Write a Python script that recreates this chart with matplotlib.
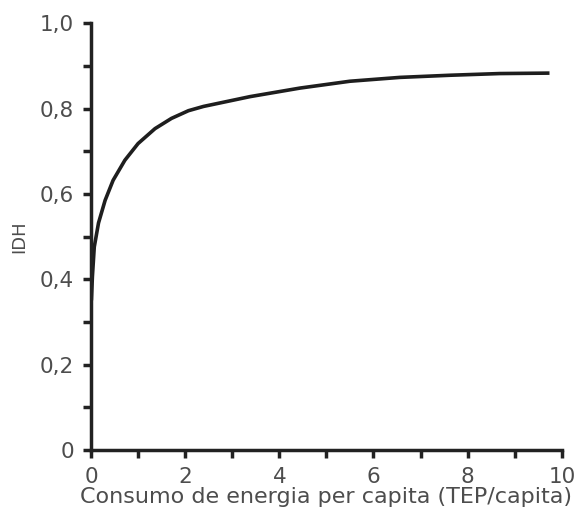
import matplotlib
matplotlib.use("Agg")
import matplotlib.pyplot as plt

# curve (TEP/capita -> IDH)
energia = [0.01, 0.03, 0.07, 0.16, 0.30, 0.47, 0.72, 1.00, 1.36, 1.71, 2.07,
           2.39, 3.38, 4.44, 5.50, 6.56, 7.62, 8.68, 9.70]
idh = [0.355, 0.406, 0.476, 0.532, 0.585, 0.632, 0.679, 0.718, 0.753, 0.777,
       0.795, 0.805, 0.828, 0.848, 0.864, 0.873, 0.878, 0.882, 0.883]

x_ticks = [0, 2, 4, 6, 8, 10]
y_ticks = [0, 0.2, 0.4, 0.6, 0.8, 1.0]
y_labels = ["0", "0,2", "0,4", "0,6", "0,8", "1,0"]

fig = plt.figure(figsize=(5.78, 5.15), dpi=100)
ax = fig.add_axes([0.1574, 0.126, 0.8146, 0.829])

ax.plot(energia, idh, color="#1e1e1e", lw=2.6, solid_joinstyle="round")

ax.set_xlim(0, 10)
ax.set_ylim(0, 1.0)
ax.set_xticks(x_ticks)
ax.set_xticks(range(0, 11), minor=True)
ax.set_yticks(y_ticks)
ax.set_yticklabels(y_labels)
ax.set_yticks([i / 10 for i in range(11)], minor=True)

for s in ["top", "right"]:
    ax.spines[s].set_visible(False)
for s in ["left", "bottom"]:
    ax.spines[s].set_linewidth(2.5)
    ax.spines[s].set_color("#222222")

ax.tick_params(which="major", direction="out", length=6, width=2.5,
               color="#222222", labelsize=15.5, labelcolor="#4d4d4d", pad=6)
ax.tick_params(which="minor", direction="out", length=6, width=2.5,
               color="#222222")

ax.set_xlabel("Consumo de energia per capita (TEP/capita)", fontsize=16,
              color="#4d4d4d", labelpad=0)
ax.set_ylabel("IDH", fontsize=13, color="#4d4d4d")
ax.yaxis.set_label_coords(-0.133, 0.5)

fig.savefig("out.png", dpi=100)
